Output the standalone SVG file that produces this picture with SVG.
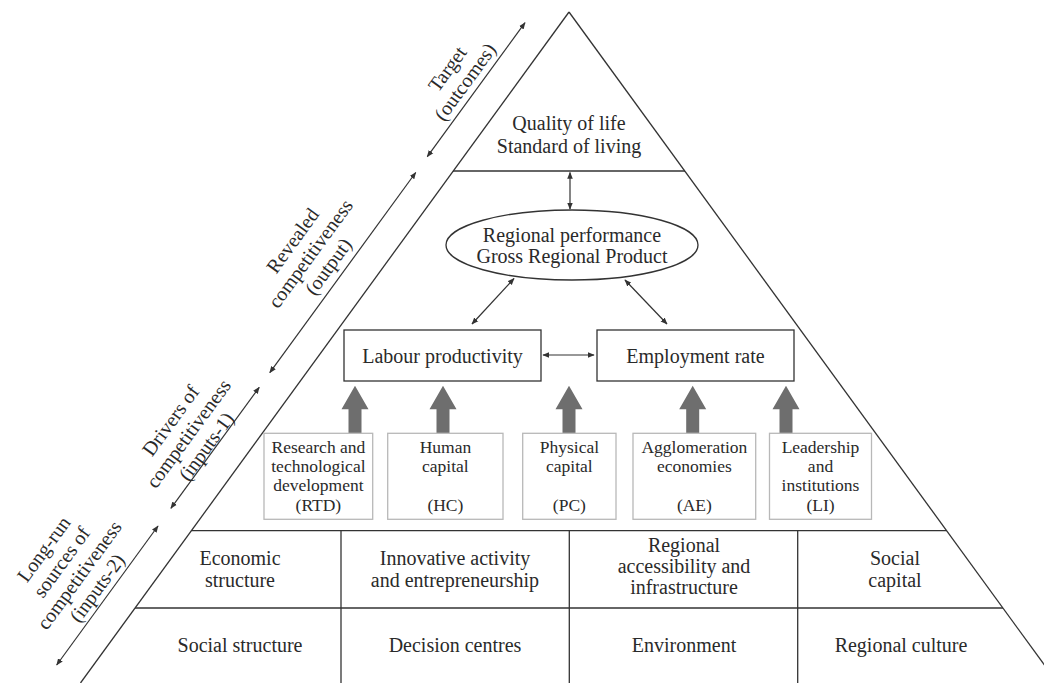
<svg xmlns="http://www.w3.org/2000/svg" width="1044" height="683" viewBox="0 0 1044 683">
<style>
text{font-family:"Liberation Serif","Times New Roman",serif;fill:#2a2a2a;text-anchor:middle}
.t20{font-size:20px}
.t17{font-size:17.5px}
.ln{stroke:#333;stroke-width:1.3;fill:none}
.ar{stroke:#333;stroke-width:1.2;fill:none;marker-start:url(#ah);marker-end:url(#ah)}
.sb{fill:#fff;stroke:#b8b8b8;stroke-width:1.3}
.bx{fill:#fff;stroke:#333;stroke-width:1.3}
.ga{fill:#6e6e6e}
</style>
<defs>
<marker id="ah" viewBox="0 0 10 10" refX="9" refY="5" markerWidth="7" markerHeight="7" markerUnits="userSpaceOnUse" orient="auto-start-reverse">
<path d="M0,1 L10,5 L0,9 Z" fill="#333"/>
</marker>
<path id="gup" d="M-6.5,47.5 V23.5 H-13.5 L0,0 L13.5,23.5 H6.5 V47.5 Z"/>
</defs>
<rect width="1044" height="683" fill="#fff"/>

<g id="pyramid">
<line class="ln" x1="569" y1="12" x2="80.5" y2="683"/>
<line class="ln" x1="569" y1="12" x2="1057.5" y2="683"/>
<line class="ln" x1="453" y1="171" x2="685" y2="171"/>
<line class="ln" x1="191.4" y1="530.7" x2="946.6" y2="530.7"/>
<line class="ln" x1="135.1" y1="608" x2="1002.9" y2="608"/>
<line class="ln" x1="341" y1="530.7" x2="341" y2="683"/>
<line class="ln" x1="569.3" y1="530.7" x2="569.3" y2="683"/>
<line class="ln" x1="797.7" y1="530.7" x2="797.7" y2="683"/>
</g>

<g id="connectors">
<line class="ar" x1="525" y1="22.7" x2="427.3" y2="156.7"/>
<line class="ar" x1="415.7" y1="172.5" x2="269.8" y2="372.7"/>
<line class="ar" x1="259.2" y1="387.3" x2="170.9" y2="508.3"/>
<line class="ar" x1="158" y1="526" x2="56.7" y2="665"/>
<line class="ar" x1="570" y1="172.5" x2="570" y2="209"/>
<line class="ar" x1="514" y1="278.5" x2="472" y2="324"/>
<line class="ar" x1="625" y1="280" x2="667" y2="324"/>
<line class="ar" x1="543" y1="355" x2="594" y2="355"/>
<use href="#gup" class="ga" x="355" y="385.8"/>
<use href="#gup" class="ga" x="443" y="385.8"/>
<use href="#gup" class="ga" x="569" y="385.8"/>
<use href="#gup" class="ga" x="692.7" y="385.8"/>
<use href="#gup" class="ga" x="786" y="385.8"/>
</g>

<g id="label-target" transform="translate(456.8,75.8) rotate(-53.9)">
<text class="t20" x="0" y="-5">Target</text>
<text class="t20" x="0" y="17">(outcomes)</text>
</g>
<g id="label-revealed" transform="translate(311,254) rotate(-53.9)">
<text class="t20" x="0" y="-16">Revealed</text>
<text class="t20" x="0" y="6">competitiveness</text>
<text class="t20" x="0" y="28">(output)</text>
</g>
<g id="label-drivers" transform="translate(189,434) rotate(-53.9)">
<text class="t20" x="0" y="-16">Drivers of</text>
<text class="t20" x="0" y="6">competitiveness</text>
<text class="t20" x="0" y="28">(inputs-1)</text>
</g>
<g id="label-longrun" transform="translate(71,569) rotate(-53.9)">
<text class="t20" x="0" y="-27">Long-run</text>
<text class="t20" x="0" y="-5">sources of</text>
<text class="t20" x="0" y="17">competitiveness</text>
<text class="t20" x="0" y="39">(inputs-2)</text>
</g>

<g id="quality">
<text class="t20" x="569" y="130">Quality of life</text>
<text class="t20" x="569" y="152.7">Standard of living</text>
</g>

<g id="regional-performance">
<ellipse cx="572" cy="245" rx="126" ry="35" class="bx"/>
<text class="t20" x="572" y="241.7">Regional performance</text>
<text class="t20" x="572" y="262.7">Gross Regional Product</text>
</g>

<g id="labour">
<rect class="bx" x="344" y="330" width="197" height="51"/>
<text class="t20" x="442.5" y="362.7">Labour productivity</text>
</g>
<g id="employment">
<rect class="bx" x="597" y="330" width="197" height="51"/>
<text class="t20" x="695.5" y="362.7">Employment rate</text>
</g>

<g id="rtd">
<rect class="sb" x="264" y="433.3" width="108.7" height="86"/>
<text class="t17" x="318.4" y="452.7">Research and</text>
<text class="t17" x="318.4" y="471.7">technological</text>
<text class="t17" x="318.4" y="490.7">development</text>
<text class="t17" x="318.4" y="510.7">(RTD)</text>
</g>
<g id="hc">
<rect class="sb" x="387.7" y="433.3" width="115.3" height="86"/>
<text class="t17" x="445.4" y="452.7">Human</text>
<text class="t17" x="445.4" y="471.7">capital</text>
<text class="t17" x="445.4" y="510.7">(HC)</text>
</g>
<g id="pc">
<rect class="sb" x="522.7" y="433.3" width="93.3" height="86"/>
<text class="t17" x="569.4" y="452.7">Physical</text>
<text class="t17" x="569.4" y="471.7">capital</text>
<text class="t17" x="569.4" y="510.7">(PC)</text>
</g>
<g id="ae">
<rect class="sb" x="633" y="433.3" width="122.7" height="86"/>
<text class="t17" x="694.4" y="452.7">Agglomeration</text>
<text class="t17" x="694.4" y="471.7">economies</text>
<text class="t17" x="694.4" y="510.7">(AE)</text>
</g>
<g id="li">
<rect class="sb" x="769.5" y="433.3" width="102" height="86"/>
<text class="t17" x="820.5" y="452.7">Leadership</text>
<text class="t17" x="820.5" y="471.7">and</text>
<text class="t17" x="820.5" y="490.7">institutions</text>
<text class="t17" x="820.5" y="510.7">(LI)</text>
</g>

<g id="economic-structure">
<text class="t20" x="240" y="565">Economic</text>
<text class="t20" x="240" y="586.5">structure</text>
</g>
<g id="innovative-activity">
<text class="t20" x="455" y="565">Innovative activity</text>
<text class="t20" x="455" y="586.5">and entrepreneurship</text>
</g>
<g id="regional-accessibility">
<text class="t20" x="684" y="552">Regional</text>
<text class="t20" x="684" y="573">accessibility and</text>
<text class="t20" x="684" y="594">infrastructure</text>
</g>
<g id="social-capital">
<text class="t20" x="895" y="565">Social</text>
<text class="t20" x="895" y="586.5">capital</text>
</g>
<g id="social-structure"><text class="t20" x="240" y="652">Social structure</text></g>
<g id="decision-centres"><text class="t20" x="455" y="652">Decision centres</text></g>
<g id="environment"><text class="t20" x="684" y="652">Environment</text></g>
<g id="regional-culture"><text class="t20" x="901" y="652">Regional culture</text></g>
</svg>
